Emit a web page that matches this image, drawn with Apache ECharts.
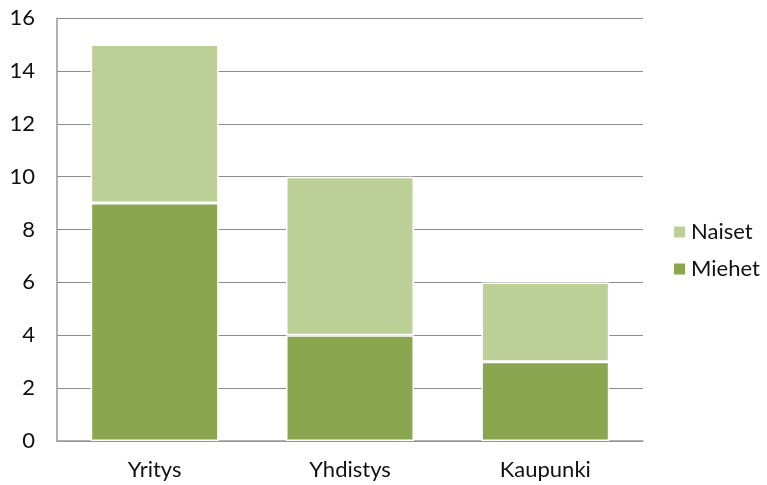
<!DOCTYPE html>
<html>
<head>
<meta charset="utf-8">
<script src="https://cdn.jsdelivr.net/npm/echarts@6/dist/echarts.min.js"></script>
<style>
  html, body { margin: 0; padding: 0; background: #fff; }
  #chart { width: 767px; height: 485px; }
</style>
</head>
<body>
<div id="chart"></div>
<script>
const categories = ['Yritys', 'Yhdistys', 'Kaupunki'];
const miehet = [9, 4, 3];
const naiset = [6, 6, 3];

const font = 'Lato, "Open Sans", sans-serif';
const chart = echarts.init(document.getElementById('chart'));
chart.setOption({
  animation: false,
  textStyle: { fontFamily: font },
  grid: { left: 57, right: 124, top: 18, bottom: 44 },
  legend: {
    orient: 'vertical',
    left: 667,
    top: 216,
    itemWidth: 13,
    itemHeight: 13,
    itemGap: 15,
    icon: 'rect',
    data: ['Naiset', 'Miehet'],
    textStyle: { color: '#111', fontSize: 22, fontFamily: font }
  },
  xAxis: {
    type: 'category',
    data: categories,
    axisLine: { lineStyle: { color: '#999', width: 1.5 } },
    axisTick: { show: false },
    axisLabel: { color: '#111', fontSize: 22, margin: 18 }
  },
  yAxis: {
    type: 'value',
    min: 0,
    max: 16,
    interval: 2,
    axisLine: { show: true, lineStyle: { color: '#999', width: 1.5 } },
    axisTick: { show: false },
    axisLabel: { color: '#111', fontSize: 22, margin: 22 },
    splitLine: { lineStyle: { color: '#8c8c8c', width: 1.2 } }
  },
  series: [
    {
      name: 'Miehet', type: 'bar', stack: 'total', data: miehet, barWidth: '65.5%',
      itemStyle: { color: '#8AA74F', borderColor: '#fff', borderWidth: 1.5 }
    },
    {
      name: 'Naiset', type: 'bar', stack: 'total', data: naiset, barWidth: '65.5%',
      itemStyle: { color: '#BBCF97', borderColor: '#fff', borderWidth: 1.5 }
    }
  ]
});
</script>
</body>
</html>
